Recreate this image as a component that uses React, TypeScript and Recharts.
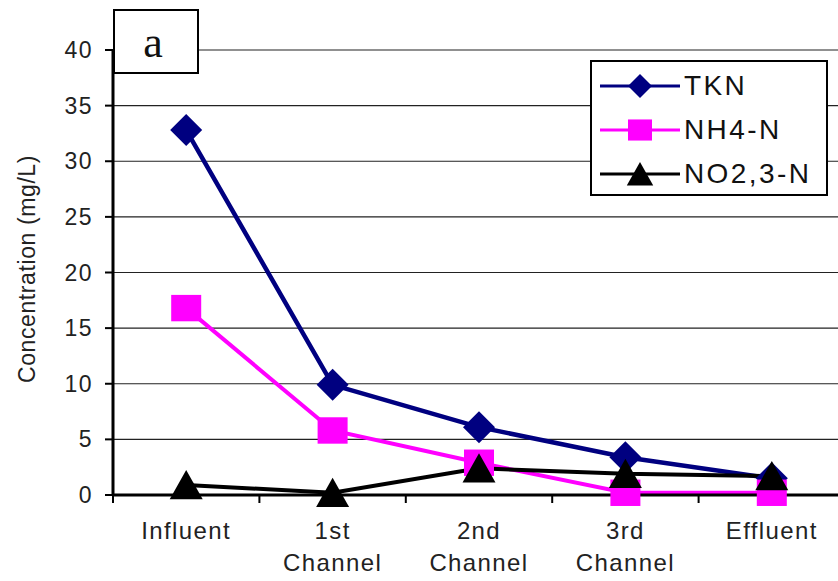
import React from 'react';
import { LineChart, Line, XAxis, YAxis, CartesianGrid, Legend } from 'recharts';

const categories = ['Influent', '1st\nChannel', '2nd\nChannel', '3rd\nChannel', 'Effluent'];
const tkn = [32.8, 9.9, 6.1, 3.4, 1.5];
const nh4 = [16.8, 5.8, 2.9, 0.2, 0.2];
const no23 = [0.9, 0.2, 2.4, 1.9, 1.7];
const yTicks = [0, 5, 10, 15, 20, 25, 30, 35, 40];

const seriesInfo = [
  { key: 'tkn', name: 'TKN', color: '#000080', shape: 'diamond' },
  { key: 'nh4', name: 'NH4-N', color: '#ff00ff', shape: 'square' },
  { key: 'no23', name: 'NO2,3-N', color: '#000000', shape: 'triangle' },
];

const data = categories.map((c, i) => ({ cat: c, tkn: tkn[i], nh4: nh4[i], no23: no23[i] }));

const FONT = 'Arial, "Liberation Sans", sans-serif';

function marker(shape: string, cx: number, cy: number, color: string, s: number, key?: any) {
  if (shape === 'diamond') {
    return <polygon key={key} points={`${cx},${cy - s} ${cx + s},${cy} ${cx},${cy + s} ${cx - s},${cy}`} fill={color} />;
  }
  if (shape === 'square') {
    return <rect key={key} x={cx - s} y={cy - s * 0.88} width={s * 2} height={s * 1.76} fill={color} />;
  }
  return <polygon key={key} points={`${cx},${cy - s} ${cx + s * 1.1},${cy + s * 0.95} ${cx - s * 1.1},${cy + s * 0.95}`} fill={color} />;
}

const makeDot = (shape: string, color: string, s: number) => (props: any) => {
  const { cx, cy, index } = props;
  if (cx == null || cy == null) return <g key={index} />;
  return marker(shape, cx, cy, color, s, index);
};

const XTick = (props: any) => {
  const { x, y, payload, index, width } = props;
  const bw = width / categories.length;
  const lines = String(payload.value).split('\n');
  return (
    <g>
      <line x1={x - bw / 2} x2={x - bw / 2} y1={y} y2={y + 8} stroke="#000" strokeWidth={2} />
      {index === categories.length - 1 && (
        <line x1={x + bw / 2} x2={x + bw / 2} y1={y} y2={y + 8} stroke="#000" strokeWidth={2} />
      )}
      {lines.map((l, i) => (
        <text key={i} x={x} y={y + 44 + i * 32} textAnchor="middle" fontSize={24} letterSpacing={1.4} fontFamily={FONT} fill="#222">
          {l}
        </text>
      ))}
    </g>
  );
};

const YTick = (props: any) => {
  const { x, y, payload } = props;
  return (
    <text x={x} y={y + 8} textAnchor="end" fontSize={23} letterSpacing={1.5} fontFamily={FONT} fill="#222">
      {payload.value}
    </text>
  );
};

const LegendBox = () => (
  <div
    style={{
      width: 238,
      height: 136,
      boxSizing: 'border-box',
      border: '2px solid #000',
      background: '#fff',
      paddingTop: 2,
    }}
  >
    {seriesInfo.map((s) => (
      <div key={s.key} style={{ display: 'flex', alignItems: 'center', height: 44 }}>
        <svg width={84} height={36} style={{ marginLeft: 6 }}>
          <line x1={2} x2={82} y1={18} y2={18} stroke={s.color} strokeWidth={3} />
          {marker(s.shape, 42, 18, s.color, 12)}
        </svg>
        <span style={{ fontFamily: FONT, fontSize: 28, letterSpacing: 2.4, color: '#111', marginLeft: 2 }}>{s.name}</span>
      </div>
    ))}
  </div>
);

export default function App() {
  return (
    <div style={{ position: 'absolute', left: 0, top: 0, width: 838, height: 581, overflow: 'hidden', background: '#fff' }}>
      <LineChart width={860} height={581} data={data} margin={{ top: 50, right: 15, bottom: 0, left: 0 }}>
        <CartesianGrid vertical={false} stroke="#222" strokeWidth={1.2} />
        <XAxis
          dataKey="cat"
          scale="band"
          height={86}
          interval={0}
          tickLine={false}
          tickSize={0}
          tickMargin={0}
          axisLine={{ stroke: '#000', strokeWidth: 3 }}
          tick={<XTick />}
        />
        <YAxis
          width={113}
          domain={[0, 40]}
          ticks={yTicks}
          interval={0}
          tickSize={8}
          tickMargin={12}
          tickLine={{ stroke: '#000', strokeWidth: 2 }}
          axisLine={{ stroke: '#000', strokeWidth: 3 }}
          tick={<YTick />}
          label={{
            content: () => (
              <text x={29} y={269} transform="rotate(-90 29 269)" textAnchor="middle" dominantBaseline="middle" fontSize={23} letterSpacing={0.6} fontFamily={FONT} fill="#222">
                Concentration (mg/L)
              </text>
            ),
          }}
        />
        <Legend
          layout="vertical"
          align="center"
          verticalAlign="middle"
          wrapperStyle={{ left: 590, top: 60, width: 238, height: 136 }}
          content={() => <LegendBox />}
        />
        <Line
          dataKey="tkn"
          name="TKN"
          stroke="#000080"
          strokeWidth={4.5}
          dot={makeDot('diamond', '#000080', 16)}
          isAnimationActive={false}
        />
        <Line
          dataKey="nh4"
          name="NH4-N"
          stroke="#ff00ff"
          strokeWidth={4}
          dot={makeDot('square', '#ff00ff', 15)}
          isAnimationActive={false}
        />
        <Line
          dataKey="no23"
          name="NO2,3-N"
          stroke="#000000"
          strokeWidth={4}
          dot={makeDot('triangle', '#000000', 15)}
          isAnimationActive={false}
        />
      </LineChart>
      <div
        style={{
          position: 'absolute',
          left: 113,
          top: 9,
          width: 86,
          height: 65,
          boxSizing: 'border-box',
          border: '2px solid #000',
          background: '#fff',
          fontFamily: '"Liberation Serif", "Times New Roman", serif',
          fontSize: 44,
          lineHeight: '64px',
          paddingRight: 6,
          textAlign: 'center',
          color: '#111',
        }}
      >
        a
      </div>
    </div>
  );
}
